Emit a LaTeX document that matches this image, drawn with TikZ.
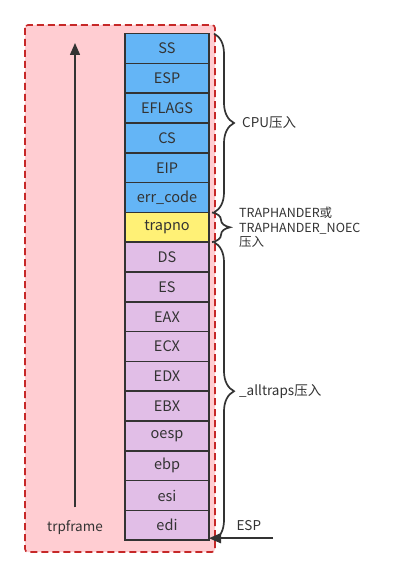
\documentclass[tikz,border=0pt]{standalone}
\usepackage{fontspec}
\setmainfont{Noto Sans CJK SC}
\usepackage{tikz}
\usetikzlibrary{arrows.meta,positioning,decorations.pathreplacing}
\definecolor{ink}{HTML}{333333}
\definecolor{framefill}{HTML}{FFCDD2}
\definecolor{framedraw}{HTML}{C62828}
\definecolor{cpublue}{HTML}{64B5F6}
\definecolor{trapyellow}{HTML}{FFF176}
\definecolor{swpurple}{HTML}{E1BEE7}

\begin{document}
\begin{tikzpicture}[x=1pt, y=-1pt,
    frame/.style={draw=framedraw, fill=framefill, line width=1.6pt,
                  dash pattern=on 7pt off 4pt, rounded corners=3pt},
    reg/.style={rectangle, draw=ink, line width=1.5pt, text=ink, outer sep=0pt,
                minimum width=84pt, minimum height=29.8pt, inner sep=0pt,
                font=\fontsize{14.5}{16}\selectfont},
    cpureg/.style={reg, fill=cpublue},
    trapreg/.style={reg, fill=trapyellow},
    swreg/.style={reg, fill=swpurple},
    note/.style={text=ink, font=\fontsize{13.5}{15}\selectfont, align=left},
    push/.style={decorate, decoration={brace, amplitude=20pt}, draw=ink, line width=1.7pt},
    arrow/.style={-{Triangle[length=12pt,width=10pt]}, draw=ink, line width=1.5pt},
]
\useasboundingbox (0,0) rectangle (402,577);

\draw[frame] (25,25) rectangle (215,552);

\node[cpureg] (ss) at (167,48.5) {SS};
\node[cpureg,below=0pt of ss] (esp) {ESP};
\node[cpureg,below=0pt of esp] (eflags) {EFLAGS};
\node[cpureg,below=0pt of eflags] (cs) {CS};
\node[cpureg,below=0pt of cs] (eip) {EIP};
\node[cpureg,below=0pt of eip] (errcode) {err\_code};
\node[trapreg,below=0pt of errcode] (trapno) {trapno};
\node[swreg,below=0pt of trapno] (ds) {DS};
\node[swreg,below=0pt of ds] (es) {ES};
\node[swreg,below=0pt of es] (eax) {EAX};
\node[swreg,below=0pt of eax] (ecx) {ECX};
\node[swreg,below=0pt of ecx] (edx) {EDX};
\node[swreg,below=0pt of edx] (ebx) {EBX};
\node[swreg,below=0pt of ebx] (oesp) {oesp};
\node[swreg,below=0pt of oesp] (ebp) {ebp};
\node[swreg,below=0pt of ebp] (esi) {esi};
\node[swreg,below=0pt of esi] (edi) {edi};

\draw[push] ([xshift=5pt]ss.north east) -- ([xshift=5pt]errcode.south east)
    node[note,midway,right=24pt] (cpulbl) {CPU压入};
\draw[push,decoration={amplitude=18pt}] ([xshift=3pt]trapno.north east) -- ([xshift=3pt]trapno.south east)
    node[note,midway,right=23pt,font=\fontsize{12.5}{14.5}\selectfont] (traplbl) {TRAPHANDER或\\TRAPHANDER\_NOEC\\压入};
\draw[push] ([xshift=5pt]ds.north east) -- ([xshift=5pt]edi.south east)
    node[note,midway,right=21pt] (swlbl) {\_alltraps压入};

\node[note] (trpframe) at (75,528) {trpframe};
\coordinate (up) at (75,43);
\draw[arrow] ([yshift=10pt]trpframe.north) -- (up);

\coordinate (espfrom) at ([xshift=64pt,yshift=2pt]edi.south east);
\draw[arrow] (espfrom) -- ([yshift=2pt]edi.south east);
\node[note,anchor=south west] (esplbl) at ([xshift=24pt,yshift=6pt]edi.south east) {ESP};

\end{tikzpicture}
\end{document}
